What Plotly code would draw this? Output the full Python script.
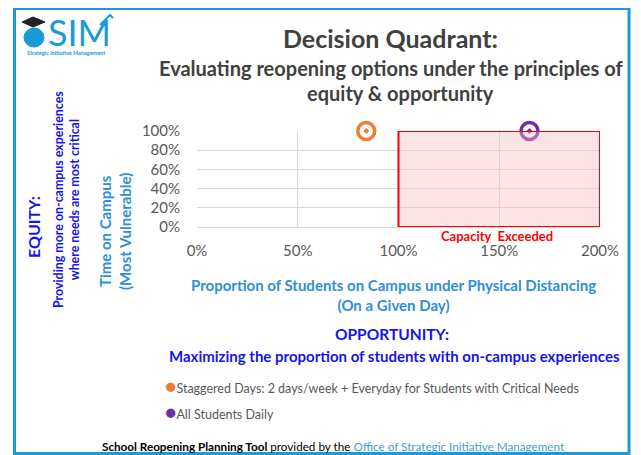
import plotly.graph_objects as go

# ---- data ----
series_names = ["Staggered Days: 2 days/week + Everyday for Students with Critical Needs",
                "All Students Daily"]
series_colors = ["#ED7D31", "#7030A0"]
proportion_on_campus = [0.84, 1.65]   # x values
time_on_campus = [1.0, 1.0]           # y values
capacity_x = [1.0, 2.0]
capacity_y = [0.0, 1.0]
x_ticks = [0, 0.5, 1.0, 1.5, 2.0]
y_ticks = [0, 0.2, 0.4, 0.6, 0.8, 1.0]

OFF = 8  # page body margin
W, H = 641 - OFF, 455 - OFF
L, R, T, B = 197, 600, 131, 227
FONT = "Lato"

def PX(px):
    return (px - L) / (R - L)

def PY(py):
    return (B - py) / (B - T)

fig = go.Figure()
for name, col, xv, yv in zip(series_names, series_colors, proportion_on_campus, time_on_campus):
    fig.add_trace(go.Scatter(
        x=[xv], y=[yv], mode="markers", name=name, showlegend=False,
        cliponaxis=False,
        marker=dict(symbol="circle-open-dot", size=17, color=col,
                    line=dict(color=col, width=3.5)),
    ))

# capacity exceeded region
fig.add_shape(type="rect", xref="x", yref="y",
              x0=capacity_x[0], x1=capacity_x[1], y0=capacity_y[0], y1=capacity_y[1],
              fillcolor="rgba(248,190,190,0.42)", line=dict(color="#FF0000", width=2),
              layer="above")

# frame
fig.add_shape(type="rect", xref="paper", yref="paper",
              x0=PX(14.5), x1=PX(629), y0=PY(8.5), y1=PY(453.5),
              line=dict(color="#1A9AD6", width=3), fillcolor="rgba(0,0,0,0)")

ann = []
def A(text, x, y, size, color, bold=False, angle=0, xanchor="center", yanchor="middle", align="center"):
    ann.append(dict(text=("<b>%s</b>" % text) if bold else text, x=PX(x), y=PY(y),
                    xref="paper", yref="paper", showarrow=False, textangle=angle,
                    xanchor=xanchor, yanchor=yanchor, align=align,
                    font=dict(family=FONT, size=size, color=color)))

A("Decision Quadrant:", 390, 38, 25, "#404040", bold=True)
A("Evaluating reopening options under the principles of", 391, 68, 20, "#404040", bold=True)
A("equity &amp; opportunity", 400, 93, 20, "#404040", bold=True)

A("EQUITY:", 33, 227, 16, "#1414F0", bold=True, angle=-90)
A("Providing more on-campus experiences<br>where needs are most critical", 66, 200, 12.4, "#1414F0", bold=True, angle=-90)
A("Time on Campus<br>(Most Vulnerable)", 115, 232, 15, "#2E8FD6", bold=True, angle=-90)

A("Capacity  Exceeded", 497, 236, 13, "#FF0000", bold=True)

A("Proportion of Students on Campus under Physical Distancing<br>(On a Given Day)", 393, 295, 15, "#2E8FD6", bold=True)
A("OPPORTUNITY:", 392, 334, 15.5, "#1414F0", bold=True)
A("Maximizing the proportion of students with on-campus experiences", 394, 356, 15, "#1414F0", bold=True)

for i, (name, col) in enumerate(zip(series_names, series_colors)):
    A("<span style='color:%s;font-size:19px'>●</span>%s" % (col, name),
      163, 385 + 26 * i, 12.5, "#595959", xanchor="left")

A("<b>School Reopening Planning Tool</b> provided by the "
  "<span style='color:#3AA0E0'>Office of Strategic Initiative Management</span>",
  100, 446, 11.7, "#000000", xanchor="left")

# logo
A("SIM", 79, 32, 36, "#1A9AD6", bold=False)
A("<b>Strategic Initiative Management</b>", 66, 53, 5.5, "#1A9AD6")
fig.add_shape(type="circle", xref="paper", yref="paper",
              x0=PX(24), x1=PX(44), y0=PY(47), y1=PY(28),
              fillcolor="#1A9AD6", line=dict(color="#1A9AD6", width=1))
fig.add_shape(type="path", xref="paper", yref="paper",
              path="M %f %f L %f %f L %f %f L %f %f Z" % (PX(22), PY(22), PX(33), PY(17), PX(45), PY(22), PX(33), PY(27)),
              fillcolor="#222222", line=dict(color="#222222", width=1))
fig.add_shape(type="path", xref="paper", yref="paper",
              path="M %f %f L %f %f L %f %f" % (PX(100), PY(25), PX(110), PY(15), PX(113), PY(18)),
              line=dict(color="#1A9AD6", width=2))

fig.update_layout(
    width=W, height=H,
    margin=dict(l=L - OFF, r=641 - R, t=T - OFF, b=455 - B),
    paper_bgcolor="white", plot_bgcolor="white",
    showlegend=False,
    annotations=ann,
    font=dict(family=FONT, color="#595959"),
    xaxis=dict(range=[0, 2], tickvals=x_ticks, tickformat=".0%", showgrid=True,
               gridcolor="#D9D9D9", gridwidth=1, zeroline=False, showline=True,
               linecolor="#D9D9D9", ticks="", tickfont=dict(family=FONT, size=15, color="#595959"),
               ticklabelstandoff=10, fixedrange=True),
    yaxis=dict(range=[0, 1], tickvals=y_ticks, tickformat=".0%", showgrid=True,
               gridcolor="#D9D9D9", gridwidth=1, zeroline=False, showline=False,
               ticks="", tickfont=dict(family=FONT, size=15, color="#595959"),
               ticklabelstandoff=16, fixedrange=True),
)

fig.write_html("out.html")
